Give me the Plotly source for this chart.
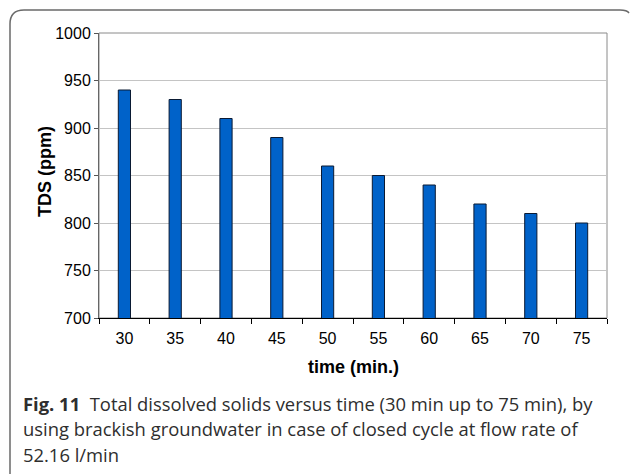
import plotly.graph_objects as go

# TDS readings over time (closed cycle, brackish groundwater)
time_min = ["30", "35", "40", "45", "50", "55", "60", "65", "70", "75"]
tds_ppm = [940, 930, 910, 890, 860, 850, 840, 820, 810, 800]
y_ticks = [700, 750, 800, 850, 900, 950, 1000]

caption_lines = [
    "<b>Fig. 11</b>  Total dissolved solids versus time (30 min up to 75 min), by",
    "using brackish groundwater in case of closed cycle at flow rate of",
    "52.16 l/min",
]

W, H = 630, 474
L, R, T, B = 99, 607, 33, 318


def px(x):
    return (x - L) / (R - L)


def py(y):
    return (B - y) / (B - T)


fig = go.Figure()
fig.add_trace(go.Bar(
    x=time_min, y=tds_ppm, width=0.24,
    marker=dict(color="#0062c9", line=dict(color="#0a1a33", width=1)),
))

shapes = [
    # plot-area border
    dict(type="rect", xref="paper", yref="paper", x0=0, x1=1, y0=0, y1=1,
         line=dict(color="#8a8a8a", width=1), layer="below"),
    # rounded figure frame
    dict(type="path", xref="paper", yref="paper",
         path=(f"M {px(10)},{py(476)} L {px(10)},{py(24)} "
               f"Q {px(10)},{py(10)} {px(24)},{py(10)} "
               f"L {px(620)},{py(10)} Q {px(627)},{py(10)} {px(629)},{py(13)}"),
         line=dict(color="#6a6a6a", width=1.5)),
]

title_font = dict(family="Liberation Sans, Arial", size=18, color="black")
annotations = [
    dict(text="<b>time (min.)</b>", xref="paper", yref="paper",
         x=px(353), y=py(367), xanchor="center", yanchor="middle",
         showarrow=False, font=title_font),
    dict(text="<b>TDS (ppm)</b>", xref="paper", yref="paper",
         x=px(45), y=py(172), xanchor="center", yanchor="middle",
         showarrow=False, textangle=-90, font=title_font),
]
for i, line in enumerate(caption_lines):
    annotations.append(dict(
        text=line, xref="paper", yref="paper", x=px(21), y=py(403 + 25.5 * i),
        xanchor="left", yanchor="middle", showarrow=False,
        font=dict(family="Open Sans", size=18.4, color="#2e2e2e"),
    ))

tick_font = dict(family="Liberation Sans, Arial", size=16, color="black")

fig.update_layout(
    width=W, height=H,
    margin=dict(l=L, r=W - R, t=T, b=H - B),
    paper_bgcolor="white", plot_bgcolor="white",
    showlegend=False,
    shapes=shapes, annotations=annotations,
    font=dict(family="Liberation Sans, Arial", size=16, color="black"),
    xaxis=dict(
        type="category", tickson="boundaries", ticks="outside", ticklen=5,
        tickcolor="black", showline=True, linecolor="black", linewidth=1,
        showgrid=False, tickfont=tick_font, ticklabelstandoff=6,
    ),
    yaxis=dict(
        range=[700, 1000], tickvals=y_ticks, ticks="outside", ticklen=4,
        tickcolor="#555", showline=True, linecolor="#666", linewidth=1,
        showgrid=True, gridcolor="#c4c4c4", gridwidth=1, zeroline=False,
        tickfont=tick_font,
    ),
)

fig.write_html("out.html")
